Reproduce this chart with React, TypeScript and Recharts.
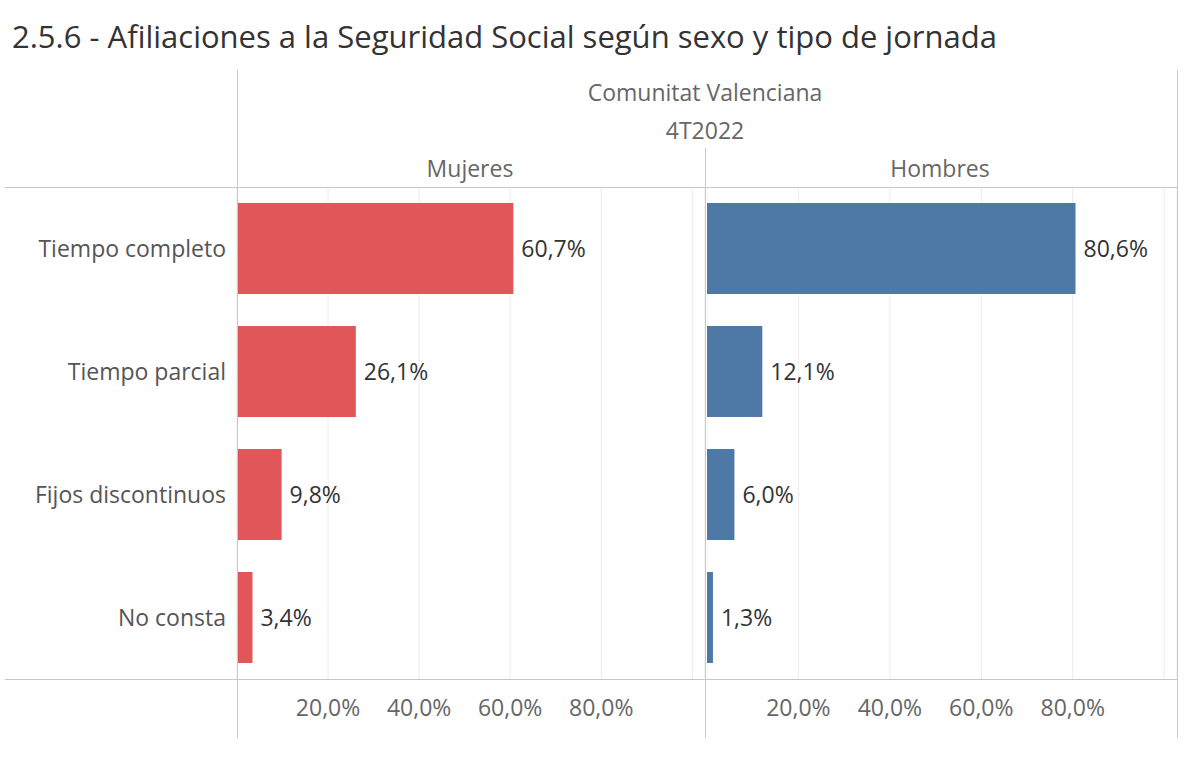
import React from "react";
import { BarChart, Bar, XAxis, YAxis, CartesianGrid, LabelList } from "recharts";

const categories = ["Tiempo completo", "Tiempo parcial", "Fijos discontinuos", "No consta"];
const mujeres = [60.7, 26.1, 9.8, 3.4];
const hombres = [80.6, 12.1, 6.0, 1.3];
const xTicks = [0, 20, 40, 60, 80, 100];

const FONT = "'Open Sans', sans-serif";
const LINE = "#c8c8c8";
const GRID = "#ececec";
const FS = 23;

const mujeresData = categories.map((cat, i) => ({ cat, value: mujeres[i] }));
const hombresData = categories.map((cat, i) => ({ cat, value: hombres[i] }));

const fmtPct = (v: number) => v.toFixed(1).replace(".", ",") + "%";
const fmtTick = (v: number) => (v === 0 || v === 100 ? "" : fmtPct(v));

const PANE_TOP = 187;
const PANE_H = 492;
const AXIS_H = 68;

function Pane({ data, color, showCats, left, width }: any) {
  return (
    <div style={{ position: "absolute", left, top: PANE_TOP }}>
      <BarChart
        width={width}
        height={PANE_H + AXIS_H}
        data={data}
        layout="vertical"
        margin={{ top: 0, right: 0, bottom: 0, left: 0 }}
        barSize={91}
      >
        <CartesianGrid horizontal={false} stroke={GRID} />
        <XAxis
          type="number"
          domain={[0, 102.8]}
          ticks={xTicks}
          tickFormatter={fmtTick}
          axisLine={false}
          tickLine={false}
          tickSize={0}
          tickMargin={21}
          height={AXIS_H}
          tick={{ fill: "#666", fontSize: FS, fontFamily: FONT }}
          allowDataOverflow
        />
        <YAxis
          type="category"
          dataKey="cat"
          hide={!showCats}
          width={showCats ? 237 : 0}
          axisLine={false}
          tickLine={false}
          tickSize={0}
          tickMargin={11}
          tick={{ fill: "#555", fontSize: FS, fontFamily: FONT }}
        />
        <Bar dataKey="value" fill={color} isAnimationActive={false}>
          <LabelList
            dataKey="value"
            position="right"
            offset={8}
            formatter={(v: any) => fmtPct(Number(v))}
            style={{ fill: "#333", fontSize: FS, fontFamily: FONT }}
          />
        </Bar>
      </BarChart>
    </div>
  );
}

const hLine = (top: number, left: number, width: number) => (
  <div style={{ position: "absolute", top, left, width, height: 1, background: LINE }} />
);
const vLine = (left: number, top: number, height: number) => (
  <div style={{ position: "absolute", top, left, width: 1, height, background: LINE }} />
);

const headerText = (text: string, cx: number, cy: number) => (
  <div
    style={{
      position: "absolute",
      left: cx - 200,
      width: 400,
      top: cy - 16,
      height: 32,
      lineHeight: "32px",
      textAlign: "center",
      fontSize: FS,
      color: "#666",
      fontFamily: FONT,
    }}
  >
    {text}
  </div>
);

export default function App() {
  return (
    <div
      style={{
        position: "absolute",
        left: 0,
        top: 0,
        width: 1200,
        height: 771,
        background: "#fff",
        overflow: "hidden",
        fontFamily: FONT,
      }}
    >
      <div
        style={{
          position: "absolute",
          left: 12,
          top: 14,
          fontSize: 31,
          lineHeight: "44px",
          color: "#333",
          whiteSpace: "nowrap",
        }}
      >
        2.5.6 - Afiliaciones a la Seguridad Social según sexo y tipo de jornada
      </div>
      {headerText("Comunitat Valenciana", 705, 92)}
      {headerText("4T2022", 705, 130)}
      {headerText("Mujeres", 470, 168)}
      {headerText("Hombres", 940, 168)}

      <Pane data={mujeresData} color="#E15759" showCats left={0} width={705} />
      <Pane data={hombresData} color="#4E79A7" showCats={false} left={707} width={470} />

      {hLine(PANE_TOP, 5, 1173)}
      {hLine(PANE_TOP + PANE_H, 5, 1173)}
      {vLine(237, 70, 668)}
      {vLine(705, 148, 590)}
      {vLine(1177, 70, 668)}
    </div>
  );
}
